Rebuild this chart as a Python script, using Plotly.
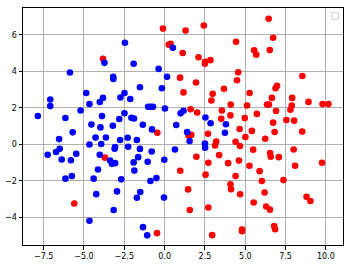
import plotly.graph_objects as go

red_x = [-3.82, -0.10, 0.26, 0.37, -0.45, 1.30, 2.43, 6.45, 4.43, 6.73, 5.55, 5.68, 6.52, 1.12, 2.10,
         2.51, 2.50, 2.84, 4.56, 4.49, 0.96, 1.95, 8.54, 6.88, 6.97, 1.17, 3.68, 5.27, 2.98, 2.90,
         6.65, 7.91, 8.92, 9.79, 10.16, 4.10, 5.11, 6.35, 6.47, 7.88, 7.80, 1.61, 2.02, 3.55, 6.91,
         5.72, 4.08, 3.51, 4.97, 7.55, 8.03, 6.73, 4.65, 5.41, 6.82, 8.53, 2.69, 1.65, 1.48, 3.20,
         3.13, 4.40, 4.67, 5.01, 6.24, 5.49, 6.54, 6.58, 7.08, 8.00, 1.97, 3.38, 2.71, 3.94, 4.61,
         5.26, 5.89, 8.09, 9.76, 0.97, 2.54, 4.40, 6.03, 7.37, 4.08, 4.12, 1.46, 4.68, 6.20, 5.52,
         8.80, 9.04, 2.71, 6.30, 6.53, 1.56, 6.79, 6.85, 4.80, 4.80, 2.95, -3.70, -5.60, -0.47]
red_y = [4.69, 6.35, 5.47, 5.52, 0.64, 6.24, 6.52, 6.89, 5.63, 5.85, 5.16, 4.92, 5.17, 5.01, 4.78,
         4.53, 4.42, 4.62, 3.95, 3.52, 3.66, 3.39, 3.75, 3.08, 3.21, 2.85, 3.05, 2.82, 2.77, 2.41,
         2.55, 2.55, 2.33, 2.21, 2.21, 2.18, 2.13, 2.19, 2.18, 2.13, 1.90, 1.93, 1.75, 1.86, 1.83,
         1.67, 1.59, 1.40, 1.44, 1.33, 1.30, 1.19, 0.84, 0.74, 0.68, 0.70, 0.58, 0.52, 0.48, 0.16,
         -0.06, 0.14, -0.09, 0.40, 0.31, -0.29, -0.47, -0.68, -0.70, -0.28, -0.68, -0.59, -1.01, -1.03, -0.89,
         -1.17, -1.47, -1.17, -1.01, -1.45, -1.66, -1.74, -2.01, -1.96, -2.19, -2.46, -2.47, -2.74, -2.64, -3.19,
         -2.88, -3.11, -3.46, -3.41, -3.58, -3.60, -4.48, -4.65, -4.67, -4.76, -4.98, -0.73, -3.24, -4.87]

blue_x = [-7.86, -7.09, -7.09, -6.15, -5.87, -5.21, -4.86, -4.66, -4.54, -4.02, -3.82, -3.88, -3.98, -3.73, -3.19,
          -3.18, -3.21, -2.74, -2.81, -2.49, -2.46, -2.49, -2.13, -2.06, -1.90, -1.92, -1.53, -1.35, -1.02, -0.86,
          -0.72, -0.78, -0.37, -0.17, 0.02, 0.15, 0.51, 0.72, 1.17, 0.99, 2.53, 2.85, 3.80, 1.40, 1.55,
          2.50, 2.51, 3.74, 0.64, -7.25, -6.73, -6.54, -6.50, -6.38, -5.70, -5.81, -5.48, -5.75, -6.15, -4.66,
          -4.28, -3.93, -3.64, -4.02, -4.13, -4.40, -4.24, -4.66, -3.38, -3.27, -3.07, -3.10, -3.07, -2.76, -2.69,
          -2.95, -3.16, -2.29, -2.26, -1.72, -1.53, -1.64, -1.92, -1.88, -1.51, -1.72, -1.34, -1.08, -0.80, -1.05,
          -0.88, -0.51, -0.04, -0.02]
blue_y = [1.56, 2.46, 2.10, 1.45, 3.94, 1.86, 2.82, 2.21, 1.09, 2.32, 2.55, 1.55, 0.93, 4.47, 3.70,
          3.59, 1.02, 2.57, 1.39, 2.82, 5.57, 1.71, 2.49, 1.46, 1.42, 4.42, 3.13, 1.08, 2.06, 2.06,
          2.06, 0.82, 4.14, 3.08, 1.97, 3.71, 5.30, 1.06, 1.84, 1.70, 1.47, 1.16, 1.10, 0.67, 0.18,
          0.05, -0.18, 0.64, -0.28, -0.57, -0.42, 0.29, -0.24, -0.83, 0.66, -0.87, -0.52, -1.74, -1.88, -0.01,
          0.37, 0.02, 0.38, -0.57, -1.38, -1.88, -2.73, -4.19, -0.89, -1.07, -1.03, -0.24, -0.15, 0.24, -1.92,
          -2.58, -3.60, 0.36, -0.13, 0.24, -0.25, -0.70, -0.99, -1.44, -2.61, -2.93, -4.54, -4.99, -0.39, -0.95,
          -2.01, -1.85, -2.92, -0.84]

x_ticks = [-7.5, -5.0, -2.5, 0.0, 2.5, 5.0, 7.5, 10.0]
x_tick_text = ["\u22127.5", "\u22125.0", "\u22122.5", "0.0", "2.5", "5.0", "7.5", "10.0"]
y_ticks = [-4, -2, 0, 2, 4, 6]
y_tick_text = ["\u22124", "\u22122", "0", "2", "4", "6"]

fig = go.Figure()
fig.add_trace(go.Scatter(x=red_x, y=red_y, mode="markers",
                         marker=dict(color="#ff0000", size=6.6, line=dict(width=0)), showlegend=False))
fig.add_trace(go.Scatter(x=blue_x, y=blue_y, mode="markers",
                         marker=dict(color="#0000ff", size=6.6, line=dict(width=0)), showlegend=False))

axis_common = dict(showline=True, linecolor="black", linewidth=1, mirror=True,
                   ticks="outside", ticklen=3.5, tickwidth=1, tickcolor="black",
                   showgrid=True, gridcolor="#b0b0b0", gridwidth=1, zeroline=False,
                   tickfont=dict(family="DejaVu Sans", size=8, color="black"))
fig.update_xaxes(range=[-8.78, 11.06], tickvals=x_ticks, ticktext=x_tick_text, **axis_common)
fig.update_yaxes(range=[-5.52, 7.48], tickvals=y_ticks, ticktext=y_tick_text, **axis_common)

fig.add_shape(type="rect", xref="paper", yref="paper",
              x0=(332.7 - 20) / 324, x1=(339.5 - 20) / 324,
              y0=(248 - 19.5) / 240, y1=(248 - 12.5) / 240,
              line=dict(color="#d0d0d0", width=1), fillcolor="white")

fig.update_layout(width=349, height=266, margin=dict(l=20, r=5, t=8, b=18),
                  plot_bgcolor="white", paper_bgcolor="white", showlegend=False)
fig.write_html("out.html", config={"displayModeBar": False},
               post_script="document.body.style.margin='0';document.body.style.overflow='hidden';")
